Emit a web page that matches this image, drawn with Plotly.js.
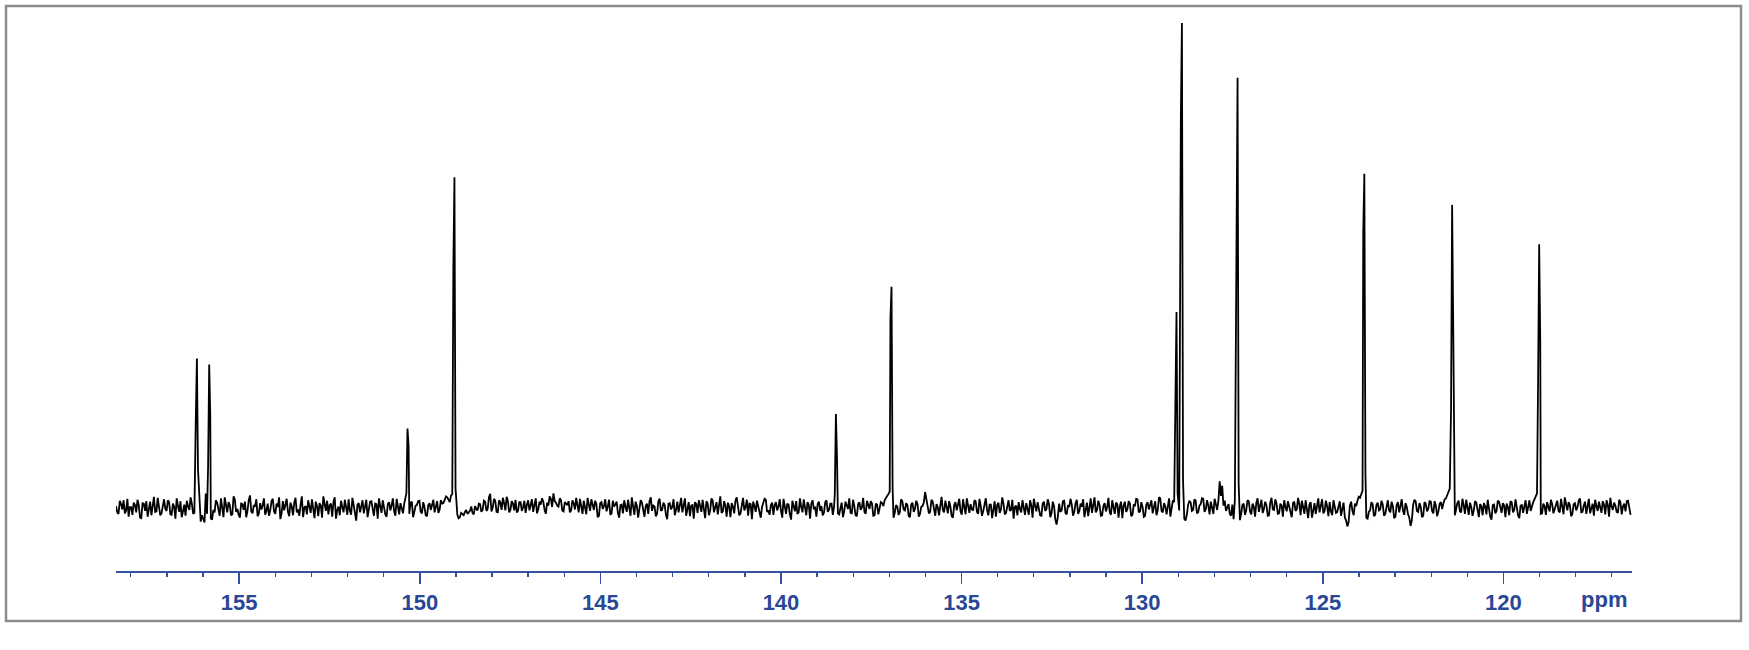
<!DOCTYPE html>
<html>
<head>
<meta charset="utf-8">
<script src="https://cdn.plot.ly/plotly-3.0.1.min.js"></script>
<style>
  html, body { margin: 0; padding: 0; background: #ffffff; }
  #chart { width: 1749px; height: 650px; }
</style>
</head>
<body>
<div id="chart"></div>
<script>
// ---- Spectrum data (13C NMR, ppm) ----
const axisStartPpm = 158.41;
const axisEndPpm = 116.44;
const noiseStartPpm = 158.41;
const noiseStepPpm = 0.07;

// Baseline noise (relative intensity units, tallest peak = 100)
// values at each 0.07 ppm grid point
const noise = [
  0.4, -1.2, 0.8, 1.6, -0.5, -1.8, 0.2, 1.1, -0.9, 0.6, -2.1, 0.9, 1.4, -0.3, -1.5, 2.3, -0.7, 0.5, -1.1, 1.8,
  -0.6, 1.2, -1.4, 0.3, 2.0, -0.8, -1.9, 0.7, 1.5, -0.4, 0.9, -1.0, 1.8, 0.5, -1.5, -3.0, -1.2, 1.4, -2.4, -0.9,
  1.1, -1.6, 0.4, 2.2, -0.9, 0.6, -1.3, 1.7, -0.2, -2.0, 0.8, 1.3, -0.6, 2.6, -1.1, 0.3, -1.7, 1.0, 0.5, -1.4,
  0.9, -0.5, 1.9, -1.2, 0.2, -2.3, 1.4, 0.6, -0.8, 1.1, -1.5, 2.1, -0.3, 0.7, -1.9, 0.4, 1.6, -1.0, -0.2, 1.3,
  -1.7, 0.5, 2.4, -0.6, -1.3, 0.9, 1.2, -2.2, 0.3, 1.5, -0.9, -0.1, 1.8, -1.4, 0.6, -2.6, 1.0, 0.2, -1.1, 1.7,
  -0.4, 1.4, -1.6, 0.8, 2.0, -1.0, 0.3, -1.8, 1.2, 0.5, -0.7, 1.9, -1.3, 0.1, 0.9, 0.4, -1.2, 1.3, -0.8, 0.6,
  1.5, -1.1, 0.2, -1.7, 1.0, 0.6, -0.9, 1.4, -0.3, 0.9, 1.8, 2.2, 1.2, 2.8, 3.0, -1.4, -1.9, -1.3, -0.8, -1.2,
  -0.6, -1.0, 0.4, -0.5, 0.8, -0.4, 1.3, -0.2, 2.9, 0.1, 1.5, -0.9, 1.1, 2.1, -0.5, 1.4, -0.4, 0.9, 1.7, -0.6,
  1.2, 0.1, -1.0, 1.6, 0.4, -0.8, 2.0, -0.3, 0.7, 1.3, -1.2, 0.5, 1.9, 3.0, 1.1, 0.3, 1.6, -0.7, 0.9, 1.4,
  -0.5, 1.0, 2.1, -0.9, 0.6, 1.5, -1.3, 0.2, 1.8, -0.4, 0.8, -1.6, 1.2, 0.4, -0.7, 1.7, -1.1, 0.3, 1.3, -2.0,
  0.7, 1.6, -0.8, 0.1, 2.2, -1.4, 0.5, -0.2, 1.1, -1.8, 0.9, 1.4, -0.6, 0.3, -1.2, 1.9, -0.4, 0.6, -2.3, 1.0,
  0.2, -1.5, 1.3, 0.8, -0.9, 2.0, -0.3, -1.7, 0.6, 1.2, -1.0, 0.4, 1.7, -2.1, 0.9, -0.5, 1.5, 0.1, -1.3, 2.4,
  -0.7, 0.5, 1.1, -1.9, 0.3, 1.6, -0.4, -1.1, 2.1, 0.2, -1.6, 0.8, 1.3, -0.8, 0.4, -2.0, 1.0, 1.7, -0.5, 0.6,
  -1.4, 1.2, 0.3, -0.6, 1.9, -1.2, 0.7, -2.4, 0.5, 1.4, -0.9, 0.2, 1.8, -1.5, 0.6, 1.0, -0.3, -1.8, 1.3, 0.4,
  -1.0, 1.6, -0.4, 0.9, 0.3, 0.8, -1.3, 1.1, -0.7, 0.5, 2.0, -1.1, 0.4, -1.7, 1.2, 0.1, -0.8, 1.5, -0.2, 0.9,
  -1.5, 0.7, -0.3, 1.0, 1.6, 2.5, 3.4, -1.6, -1.0, 0.3, -0.9, 1.4, -0.5, 0.6, -1.9, 1.1, -0.2, 0.8, -1.2, 0.4,
  3.3, 0.6, -0.8, 1.3, -1.6, 0.2, 0.9, -0.4, 1.5, -1.1, 0.3, -2.0, 1.2, 0.5, -0.7, 1.8, -1.3, 0.1, 0.8, -0.5,
  1.4, -1.2, 0.4, -0.6, 2.0, -1.5, 0.7, 0.2, -1.8, 1.1, -0.3, 0.9, -1.0, 1.6, -0.4, -2.2, 0.5, 1.2, -0.9, 0.3,
  1.0, -1.4, 0.6, 1.9, -0.7, 0.1, -1.6, 1.3, -0.2, 0.8, -1.1, 0.4, -3.4, 0.9, -0.5, 1.5, -1.3, 0.2, 0.7, -0.8,
  1.7, -0.6, 0.3, -1.9, 1.1, 0.5, -1.0, 2.2, -0.4, 0.6, -1.5, 1.0, 0.2, -0.9, 1.6, -1.2, 0.8, 0.4, -2.1, 1.3,
  -0.3, 0.9, -1.4, 0.5, 1.8, -0.7, 0.2, -1.6, 1.2, 0.6, -1.1, 1.4, -0.5, 2.0, -0.9, 0.3, 1.0, -1.8, 1.6, 2.2,
  -1.0, 0.4, -1.8, -2.6, 0.6, 1.2, -0.4, 1.5, -0.9, 0.8, 1.9, -0.3, 0.5, 1.3, -1.2, 0.9, 1.5, 2.5, 0.5, -0.6,
  0.8, -1.6, -2.3, 2.2, -2.1, -1.2, 0.9, -0.5, 1.4, -1.3, 0.3, 1.1, -0.8, 1.7, -0.2, 0.6, -1.5, 2.1, -0.4, 0.9,
  -1.1, 0.5, 1.6, -0.7, 0.2, -1.9, 1.3, -0.3, 0.8, 1.5, -1.2, -0.4, 0.7, -2.0, 1.0, 0.3, -0.9, 1.8, -0.6, 0.4,
  1.2, -1.5, 0.6, -0.8, 1.4, -0.2, -1.9, -3.8, 0.5, -0.6, 0.9, 1.5, 2.1, 3.6, -1.6, -2.2, -0.5, 0.8, -1.4, 1.1,
  -0.3, 0.7, -1.2, 1.6, -0.9, 0.4, -1.8, 1.2, 0.2, -0.6, 1.0, -1.3, -3.7, 0.6, 1.4, -0.8, 0.3, -1.6, 0.9, -0.2,
  1.3, -1.1, 0.5, -0.7, 1.2, 1.0, 2.0, 3.4, -1.8, -1.2, -0.3, 1.5, -0.9, 0.6, 1.7, -1.4, 0.2, -0.5, 1.1, -1.9,
  0.4, 1.0, -1.3, 0.2, -2.4, 0.7, -0.6, 1.3, -1.0, 0.5, 0.9, -1.5, 1.2, -0.4, 0.1, -2.1, 0.6, 0.3, -1.2, 1.6,
  0.5, 1.8, 3.0, -1.6, -1.1, 0.4, 1.2, -0.7, 0.8, -0.3, 1.5, -0.9, 0.3, 2.2, -0.5, 0.6, -1.2, 1.0, 0.2, 2.0,
  -0.8, 1.3, 0.4, -1.1, 0.9, 1.7, -0.6, 0.2, 1.4, -1.3, 0.7, 2.1, -0.4, 0.5, -1.0, 1.2, 0.3, -0.7, 1.5, -1.4
];
// values half-way between the grid points (0.035 ppm further upfield)
const noiseMid = [
  -0.9, 1.5, -0.3, -1.1, 1.9, 0.2, -1.4, 0.6, 1.7, -2.0, 1.0, -0.6, -1.8, 1.3, 0.4, -0.8, 2.1, -1.5, 0.7, -0.2,
  1.6, -1.3, 0.9, -2.2, 0.5, 1.4, -0.7, -1.6, 0.3, 2.2, -1.2, 1.5, 2.5, -2.8, -2.2, 3.0, 1.0, -2.2, -0.4, 1.6,
  -0.5, 2.0, -1.9, 0.1, 1.2, -1.5, 2.4, -0.8, -1.4, 0.9, -0.4, -1.9, 1.6, -0.7, 0.6, 1.8, -1.2, -0.3, 2.0, -0.6,
  -1.6, 1.4, -0.7, 0.9, 2.2, -1.1, -0.5, 1.9, -1.7, 0.3, 1.1, -0.9, -1.6, 2.4, 0.1, -1.3, 0.5, 1.8, -2.1, 0.4,
  1.0, -2.0, 0.3, 1.5, 0.6, -1.8, 2.2, -0.4, -1.5, 0.2, 1.7, -1.4, -0.6, 2.1, -1.0, 0.7, -0.9, 1.6, 0.8, -1.9,
  1.3, -0.7, 0.9, -2.2, 0.4, 1.6, -1.3, 0.8, -0.5, 2.0, -1.6, 0.3, 1.0, -1.1, 2.5, -0.6, 1.1, -1.9, 0.5, 1.4,
  -0.8, 1.2, -1.5, 0.6, -0.4, 1.7, 0.2, -1.0, 1.6, 1.0, 2.4, 1.5, 2.6, 4.0, -1.6, -2.1, -1.0, -1.5, -0.4, -0.9,
  0.3, -1.3, -0.2, 0.9, -0.8, 1.5, -0.6, 2.2, -0.7, 1.9, -0.8, 1.6, -0.4, 1.0, 2.3, -0.9, 1.4, -0.5, -0.9, 1.2,
  -0.6, 1.5, 0.7, -0.5, 1.8, 0.9, -1.1, 1.3, 2.0, -0.4, 1.1, 2.4, 0.2, 1.4, 0.5, 2.0, -0.5, 1.2, 0.6, -0.9,
  1.6, -0.3, 0.8, 1.9, -1.2, 0.4, 2.1, -0.6, 0.9, 1.5, -1.9, 1.0, -0.2, 1.8, 0.3, -1.4, 1.5, 0.7, -1.0, 0.6,
  -1.1, 0.2, 1.7, -1.6, 0.8, 1.3, -2.0, 1.6, -0.5, 0.4, -1.2, 2.2, 0.5, -1.7, 1.4, -0.6, 1.1, -1.4, 0.9, -0.3,
  1.8, -0.4, -0.9, 2.1, 0.4, -1.6, 1.2, 0.5, -2.2, 0.8, 1.6, -0.8, -0.3, 1.4, -1.5, 2.0, -0.9, 1.2, 0.7, -1.0,
  1.4, -1.8, 0.3, 1.0, -1.1, 2.2, -1.5, 0.6, -0.5, 1.7, 0.9, -2.3, 0.4, 1.5, -1.2, 0.2, 1.9, -0.8, -1.4, 1.1,
  0.6, -0.5, 1.8, -2.0, 0.5, 0.9, -1.3, 1.5, -0.7, -1.2, 2.0, -0.9, -0.2, 1.2, -2.2, 1.6, 0.3, 0.8, -0.6, -1.5,
  1.2, -0.8, 0.9, -1.4, 1.6, -1.1, 0.4, -1.9, 1.3, -0.2, -1.0, 1.7, -1.5, 0.8, -0.4, 2.1, -1.2, 0.3, 1.4, -1.6,
  0.9, -1.3, 1.2, 0.4, 2.2, 2.9, 4.5, -2.0, 0.6, -1.4, 1.8, -0.3, 1.0, -1.6, 0.7, -0.8, 1.5, -1.8, 0.3, 1.2,
  1.5, -1.1, 1.7, -0.2, 0.8, -1.5, 2.3, -0.9, 0.2, 1.4, -1.7, 0.6, -0.5, 1.9, -1.4, 0.4, 2.0, -1.0, -0.3, 1.6,
  -0.8, 1.9, -1.6, 1.1, -0.4, 0.7, -2.1, 1.4, 0.6, -1.0, 2.2, -1.3, 0.5, -0.6, 1.7, 0.2, -1.5, -0.2, 1.6, -1.4,
  -0.4, 1.6, -2.0, 0.5, 1.2, -1.5, 0.9, -0.6, 1.8, -1.9, 1.3, -2.4, -1.8, -0.8, 1.4, -1.0, 0.6, 1.9, -1.6, 1.0,
  -1.2, 0.9, 1.8, -0.4, -1.7, 2.0, 0.3, -0.9, 1.5, -1.6, 0.4, -0.7, 2.1, -1.4, 0.2, 1.1, -2.0, 1.3, 0.5, -0.8,
  1.4, -1.7, 0.6, 1.9, -0.9, 1.2, -1.8, 0.7, -0.3, 1.6, 0.5, -1.5, 2.2, -0.6, 1.0, -1.3, 2.0, 0.4, 1.2, 2.6,
  -0.5, 0.8, -2.2, -1.4, 1.4, -0.6, 1.8, -1.1, 0.5, 2.0, -0.8, 1.6, -1.3, 0.2, 1.9, -0.4, 5.5, 4.6, 1.5, 0.3,
  -1.2, 0.7, 1.5, 0.0, -2.5, 0.6, -1.4, 1.6, -0.7, 0.9, -1.8, 2.0, 0.4, -1.0, 1.3, -1.6, 1.1, -0.3, 1.8, -1.2,
  0.9, -1.8, 0.3, 1.4, -1.3, 1.0, -0.6, 2.1, -1.5, 0.2, 1.6, -2.1, 1.2, -0.4, -1.2, 2.0, 0.7, -1.1, 1.5, -1.7,
  -0.7, 1.6, -1.0, 0.5, -1.6, 1.1, -2.6, -2.9, 1.3, -1.5, 0.4, 2.3, 3.0, 0.0, -2.0, -0.8, 1.2, -1.7, 0.6, -0.5,
  1.5, -1.6, 0.8, -0.5, 1.3, -2.1, 0.6, -0.9, 1.8, -1.4, 0.2, -2.0, -2.5, 1.7, -0.6, 1.0, -1.9, 1.2, -0.7, 1.4,
  -0.6, 1.4, -1.7, 0.9, -0.2, 1.8, 2.6, 4.0, 0.0, -1.5, 1.0, -0.7, 1.9, -1.2, 0.3, 1.1, -1.6, 1.4, -0.4, 0.8,
  -1.5, 0.3, 1.7, -1.8, 0.6, -1.1, 1.5, -0.3, 1.0, -1.9, 0.2, 1.4, -0.9, 1.8, -1.5, 0.5, -1.0, 1.6, 0.4, -0.6,
  1.2, 2.4, 0.0, -1.2, 0.9, -1.4, 0.2, 1.7, -1.1, 0.6, -0.6, 1.9, -1.3, 0.4, 1.2, -1.7, 0.8, -0.5, 1.5, -0.9,
  0.5, -1.2, 1.9, 0.2, -1.6, 0.4, 1.3, -1.0, 0.7, 1.6, -1.8, 0.3, 1.1, -0.8, 1.7, -1.3, 0.9, 1.4, -0.3, 0.6
];

// Peaks (ppm, top height, height of the point just left / right of the top)
const peakPpm       = [156.17, 155.83, 150.34, 149.04, 138.48, 136.94, 129.05, 128.90, 127.36, 123.85, 121.42, 119.01];
const peakTop       = [  30.8,   29.6,   16.4,   68.2,   19.4,   45.6,   40.4,  100.0,   88.7,   68.9,   62.5,   54.4];
const peakLeftStep  = [  18.8,    8.7,    3.0,   50.0,    3.0,   39.2,   31.8,   81.0,   55.9,   57.0,   20.2,   26.2];
const peakRightStep = [   8.0,   18.8,   12.8,    4.0,   10.5,    4.0,    3.0,    5.8,    5.0,    7.2,   38.1,   34.4];

// Axis ticks
const majorTickStep = 5;
const minorTickStep = 1;
const unitLabel = 'ppm';
const unitLabelPpm = 117.22;

// ---- Build the trace from the arrays ----
const xs = [], ys = [];
const half = 0.03;
let k = 0;
function nearPeak(g) {
  for (let j = 0; j < peakPpm.length; j++) {
    if (Math.abs(g - peakPpm[j]) < 0.045) return true;
  }
  return false;
}
function addPoint(g, v) {
  while (k < peakPpm.length && peakPpm[k] > g) {
    xs.push(peakPpm[k] + half, peakPpm[k], peakPpm[k] - half);
    ys.push(peakLeftStep[k], peakTop[k], peakRightStep[k]);
    k++;
  }
  if (nearPeak(g)) return;
  xs.push(g);
  ys.push(v);
}
for (let i = 0; i < noise.length; i++) {
  const g = noiseStartPpm - i * noiseStepPpm;
  addPoint(g, noise[i]);
  if (i < noiseMid.length && i < noise.length - 1) addPoint(g - noiseStepPpm / 2, noiseMid[i]);
}

const blue = '#3450a2';
const labelBlue = '#2a4796';

const trace = {
  type: 'scatter',
  mode: 'lines',
  x: xs,
  y: ys,
  line: { color: '#000000', width: 1.8 },
  hoverinfo: 'skip',
  showlegend: false
};

const W = 1749, H = 650;
const mL = 116, mR = 117, mT = 20, mB = 79;
const pw = W - mL - mR, ph = H - mT - mB;
const px = v => (v - mL) / pw;
const py = v => (H - mB - v) / ph;

const layout = {
  width: W,
  height: H,
  margin: { l: mL, r: mR, t: mT, b: mB, pad: 0 },
  paper_bgcolor: '#ffffff',
  plot_bgcolor: '#ffffff',
  showlegend: false,
  xaxis: {
    range: [axisStartPpm, axisEndPpm],
    showgrid: false,
    zeroline: false,
    showline: true,
    linecolor: blue,
    linewidth: 1.5,
    ticks: 'outside',
    ticklen: 11,
    tickwidth: 1.5,
    tickcolor: blue,
    tick0: 0,
    dtick: majorTickStep,
    tickfont: { family: 'Liberation Sans, Arial, sans-serif', size: 22, color: labelBlue, weight: 'bold' },
    minor: { dtick: minorTickStep, tick0: 0, ticks: 'outside', ticklen: 4, tickwidth: 1.3, tickcolor: blue, showgrid: false },
    fixedrange: true
  },
  yaxis: {
    visible: false,
    range: [-12.99, 100.62],
    fixedrange: true
  },
  annotations: [{
    text: unitLabel,
    xref: 'x', yref: 'paper',
    x: unitLabelPpm, y: 0,
    xanchor: 'center', yanchor: 'top',
    yshift: -14,
    showarrow: false,
    font: { family: 'Liberation Sans, Arial, sans-serif', size: 22, color: labelBlue, weight: 'bold' }
  }],
  shapes: [{
    type: 'rect',
    xref: 'paper', yref: 'paper',
    x0: px(6), x1: px(1741),
    y0: py(621), y1: py(6),
    line: { color: '#8c8c8c', width: 2.5 },
    fillcolor: 'rgba(0,0,0,0)',
    layer: 'above'
  }]
};

Plotly.newPlot('chart', [trace], layout, { staticPlot: true, displayModeBar: false });
</script>
</body>
</html>
